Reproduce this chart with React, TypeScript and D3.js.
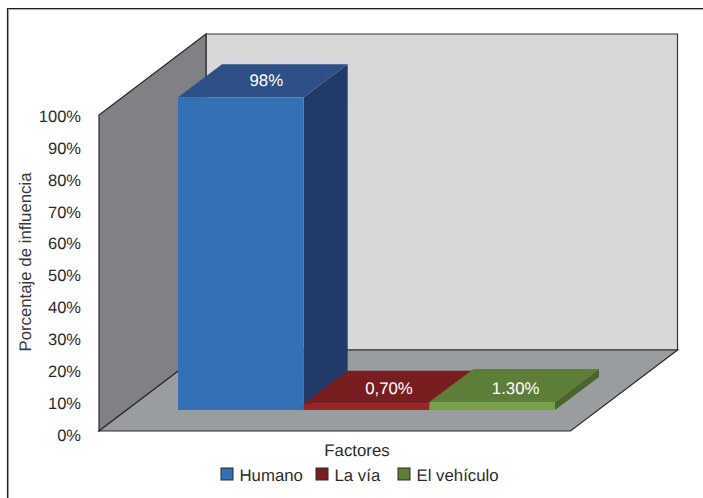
import React from "react";
import * as d3 from "d3";

const categories = ["Humano", "La vía", "El vehículo"];
const values = [98, 0.7, 1.3];
const valueLabels = ["98%", "0,70%", "1.30%"];
const tickValues = [0, 10, 20, 30, 40, 50, 60, 70, 80, 90, 100];
const frontColors = ["#3470b4", "#962726", "#77a04a"];
const topColors = ["#2d5087", "#781e20", "#5e7d38"];
const sideColors = ["#223a68", "#5c1718", "#4a6530"];
const legendColors = ["#3470b4", "#781e20", "#5e7d38"];

const FONT = "'Liberation Sans', Arial, sans-serif";
const WIDTH = 703;
const HEIGHT = 498;

// Oblique projection offsets of the chart box and of each bar
const BOX = { left: 99, right: 570.5, top: 115, bottom: 431, dx: 107, dy: -81 };
const BAR = { dx: 44, dy: -33, base: 410 };
// Fine placement of the value labels on the bars' top faces
const LABEL_SHIFT_X = [3.5, 0.5, 1.5];
const LABEL_SHIFT_Y = [5.5, 6.5, 8.5];

const pts = (p: [number, number][]) => p.map((q) => q.join(",")).join(" ");

export default function App() {
  const x = d3.scaleBand<string>().domain(categories).range([178, 555]).padding(0);
  const tickY = d3.scaleLinear().domain([0, 100]).range([434.5, 116]);
  // The floor slab gives every bar a few pixels of height even at zero
  const barH = d3.scaleLinear().domain([0, 100]).range([4, 319]);

  const { left, right, top, bottom, dx, dy } = BOX;

  return (
    <svg
      width={WIDTH}
      height={HEIGHT}
      style={{ position: "absolute", left: 0, top: 0, fontFamily: FONT, textRendering: "geometricPrecision" }}
    >
      <rect width={WIDTH} height={HEIGHT} fill="#fff" />
      {/* Frame: only the top and left rules are present */}
      <path d={`M703,9.6H8.6V498`} fill="none" stroke="#a9abad" strokeWidth={1} />
      <path d={`M703,8.5H7.5V498`} fill="none" stroke="#231f20" strokeWidth={1.2} />

      {/* Walls and floor */}
      <polygon
        points={pts([[left + dx, top + dy], [right + dx, top + dy], [right + dx, bottom + dy], [left + dx, bottom + dy]])}
        fill="#d8d8da"
        stroke="#333436"
        strokeWidth={1.2}
      />
      <polygon
        points={pts([[left, top], [left + dx, top + dy], [left + dx, bottom + dy], [left, bottom]])}
        fill="#808184"
        stroke="#2b2b2d"
        strokeWidth={1.2}
      />
      <polygon
        points={pts([[left, bottom], [right, bottom], [right + dx, bottom + dy], [left + dx, bottom + dy]])}
        fill="#9a9d9f"
        stroke="#2b2b2d"
        strokeWidth={1.2}
      />

      {/* Bars, drawn left to right so each side face sits beneath the next */}
      {categories.map((c, i) => {
        const x0 = x(c)!;
        const x1 = x0 + x.bandwidth();
        const yTop = BAR.base - barH(values[i]);
        return (
          <g key={c}>
            <polygon
              points={pts([[x1, yTop], [x1 + BAR.dx, yTop + BAR.dy], [x1 + BAR.dx, BAR.base + BAR.dy], [x1, BAR.base]])}
              fill={sideColors[i]}
            />
            <polygon
              points={pts([[x0, yTop], [x1, yTop], [x1 + BAR.dx, yTop + BAR.dy], [x0 + BAR.dx, yTop + BAR.dy]])}
              fill={topColors[i]}
            />
            <rect x={x0} y={yTop} width={x.bandwidth()} height={barH(values[i])} fill={frontColors[i]} />
            <text
              x={(x0 + x1 + BAR.dx) / 2 + LABEL_SHIFT_X[i]}
              y={yTop + BAR.dy / 2 + LABEL_SHIFT_Y[i]}
              textAnchor="middle"
              fontSize={16.8}
              fill="#fff"
            >
              {valueLabels[i]}
            </text>
          </g>
        );
      })}

      {/* Value axis labels */}
      {tickValues.map((t) => (
        <text key={t} x={81} y={tickY(t) + 6} textAnchor="end" fontSize={16.5} fill="#2b2b2d">
          {t}%
        </text>
      ))}
      <text
        transform="translate(31,262) rotate(-90)"
        textAnchor="middle"
        fontSize={16.8}
        fill="#3a3a3c"
      >
        Porcentaje de influencia
      </text>
      <text x={357} y={456} textAnchor="middle" fontSize={16.8} fill="#2b2b2d">
        Factores
      </text>

      {/* Legend */}
      {categories.map((c, i) => {
        const lx = [221, 316, 398][i];
        return (
          <g key={c}>
            <rect x={lx} y={468} width={12} height={12} fill={legendColors[i]} stroke="#2b2b2d" strokeWidth={1} />
            <text x={lx + 18.5} y={480.5} fontSize={16.8} fill="#2b2b2d">
              {c}
            </text>
          </g>
        );
      })}
    </svg>
  );
}
